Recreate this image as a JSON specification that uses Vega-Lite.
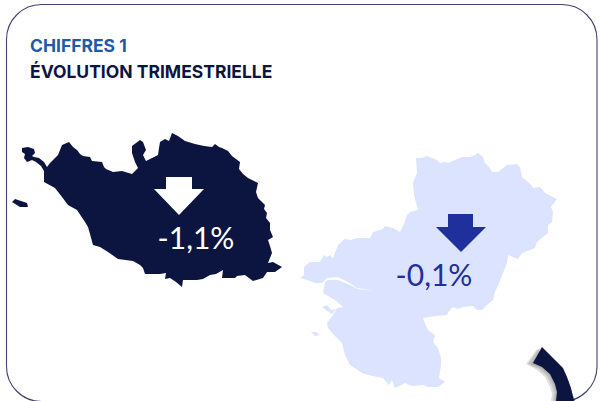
{
"$schema":"https://vega.github.io/schema/vega-lite/v6.json",
"width":600,"height":401,"padding":0,"autosize":"none","background":"white",
"config":{"view":{"stroke":null}},
"layer":[
{"data":{"values":[{"x":6.5,"x2":597,"y":4.5,"y2":401.5}]},
 "mark":{"type":"rect","fill":null,"stroke":"#3f4570","strokeWidth":1.1,"cornerRadius":35},
 "encoding":{"x":{"field":"x","type":"quantitative","scale":{"domain":[0,600],"range":[0,600],"nice":false,"zero":false},"axis":null},"x2":{"field":"x2"},"y":{"field":"y","type":"quantitative","scale":{"domain":[0,401],"range":[0,401],"nice":false,"zero":false},"axis":null},"y2":{"field":"y2"}}},
{"data":{"values":[
 {"type":"Feature","properties":{"name":"shadow"},"geometry":{"type":"Polygon","coordinates":[[[537,349],[526,364],[537,370],[545,377],[550,387],[552,394],[551,401],[575,401],[565,373],[555,357]]]}},
 {"type":"Feature","properties":{"name":"shadow"},"geometry":{"type":"Polygon","coordinates":[[[539,348],[528,364],[539,369],[547,376],[552,386],[554,393],[553,401],[575,401],[565,373],[555,357]]]}},
 {"type":"Feature","properties":{"name":"shadow"},"geometry":{"type":"Polygon","coordinates":[[[541,348],[531,364],[541,368],[549,375],[554,385],[556,392],[555,401],[575,401],[565,373],[555,357]]]}},
 {"type":"Feature","properties":{"name":"arc"},"geometry":{"type":"Polygon","coordinates":[[[542,347],[533,363],[542,367],[550,374],[555,384],[557,392],[556,401],[574,401],[571,388],[567,377],[563,368],[555,358]]]}},
 {"type":"Feature","properties":{"name":"Pays de la Loire"},"geometry":{"type":"MultiPolygon","coordinates":[
  [[[417,158],[422,158],[427,156],[432,158],[437,160],[440,163],[445,162],[448,163],[455,160],[462,157],[470,157],[475,155],[478,153],[483,157],[485,163],[489,167],[492,172],[498,172],[503,168],[507,165],[517,164],[520,167],[522,177],[528,182],[534,188],[540,187],[545,193],[557,199],[551,207],[553,212],[552,222],[548,225],[548,233],[537,242],[535,248],[522,253],[518,259],[508,255],[507,263],[503,273],[499,283],[495,292],[493,300],[487,305],[482,310],[477,310],[473,306],[463,307],[458,309],[453,307],[449,311],[447,315],[435,316],[423,318],[426,326],[428,330],[435,335],[433,342],[438,348],[441,358],[441,365],[439,378],[445,382],[438,387],[428,387],[423,385],[412,386],[405,383],[395,388],[392,380],[389,385],[383,378],[372,376],[362,373],[350,365],[345,355],[342,343],[335,336],[328,328],[327,323],[333,315],[337,308],[343,307],[335,300],[323,293],[325,282],[328,280],[338,280],[350,285],[358,289],[374,291],[357,288],[348,282],[338,277],[327,278],[322,283],[315,283],[307,280],[300,278],[304,275],[304,267],[310,262],[320,262],[324,255],[327,257],[330,255],[333,258],[338,245],[345,239],[351,240],[357,238],[370,238],[373,232],[383,229],[385,226],[393,228],[400,232],[404,224],[407,215],[410,212],[418,210],[414,195],[413,183],[417,173],[416,158],[417,158]]],
  [[[322,307],[327,305],[331,310],[336,309],[332,314],[326,310],[322,307]]],
  [[[311,332],[316,332],[320,335],[315,336],[311,332]]]]}},
 {"type":"Feature","properties":{"name":"Vendée"},"geometry":{"type":"MultiPolygon","coordinates":[
  [[[22,148],[28,147],[34,149],[35,153],[32,156],[34,157],[39,158],[44,162],[47,167],[50,163],[54,159],[58,155],[60,150],[62,145],[69,142],[73,147],[77,150],[80,154],[83,156],[90,157],[92,161],[102,162],[104,167],[106,169],[113,172],[122,171],[132,174],[138,168],[135,162],[132,153],[132,146],[140,140],[143,142],[146,150],[143,155],[146,161],[152,158],[158,155],[159,148],[160,142],[165,139],[169,141],[172,133],[178,136],[185,141],[195,144],[204,146],[212,147],[215,144],[219,147],[222,148],[228,151],[232,156],[236,159],[240,162],[239,169],[243,174],[248,178],[258,183],[256,192],[258,198],[261,201],[265,205],[264,209],[267,213],[266,218],[270,223],[270,230],[273,237],[268,240],[270,246],[272,253],[268,263],[273,262],[282,267],[275,272],[267,272],[263,278],[253,281],[245,275],[237,276],[235,278],[222,278],[223,270],[216,274],[210,275],[203,279],[197,280],[183,280],[182,287],[176,282],[170,278],[165,279],[166,273],[160,274],[145,274],[143,268],[140,265],[133,261],[118,259],[108,252],[100,247],[93,245],[90,234],[88,227],[85,222],[77,210],[68,205],[62,197],[55,188],[44,182],[44,171],[41,166],[36,162],[32,160],[27,162],[24,158],[25,154],[22,152],[22,148]]],
  [[[12,202],[15,199],[21,201],[27,203],[28,207],[20,207],[12,202]]]]}},
 {"type":"Feature","properties":{"name":"arrow white"},"geometry":{"type":"Polygon","coordinates":[[[166,177],[192,177],[192,189],[204,189],[179,215],[154,189],[166,189],[166,177]]]}},
 {"type":"Feature","properties":{"name":"arrow blue"},"geometry":{"type":"Polygon","coordinates":[[[448,214],[473,214],[473,227],[486,227],[461,252],[436,227],[448,227],[448,214]]]}}
 ]},
 "projection":{"type":"identity","scale":1,"translate":[0,0]},
 "mark":{"type":"geoshape","strokeWidth":0},
 "encoding":{"color":{"field":"properties.name","type":"nominal","legend":null,
  "scale":{"domain":["shadow","arc","Pays de la Loire","Vendée","arrow white","arrow blue"],"range":["#00000020","#0c1540","#dbe3fe","#0c1540","#ffffff","#1f2f9c"]}}}},
{"data":{"values":[
 {"x":30,"y":52,"t":"CHIFFRES 1","k":"a"},
 {"x":30,"y":78,"t":"ÉVOLUTION TRIMESTRIELLE","k":"b"}]},
 "mark":{"type":"text","align":"left","baseline":"alphabetic","font":"Inter","fontWeight":700,"fontSize":17.5},
 "encoding":{"x":{"field":"x","type":"quantitative","scale":{"domain":[0,600],"range":[0,600],"nice":false,"zero":false},"axis":null},"y":{"field":"y","type":"quantitative","scale":{"domain":[0,401],"range":[0,401],"nice":false,"zero":false},"axis":null},"text":{"field":"t"},
 "color":{"field":"k","legend":null,"scale":{"domain":["a","b"],"range":["#1f5aa8","#0c1540"]}}}},
{"data":{"values":[
 {"x":196,"y":249,"t":"-1,1%","k":"c"},
 {"x":434,"y":286,"t":"-0,1%","k":"d"}]},
 "mark":{"type":"text","align":"center","baseline":"alphabetic","font":"Lato","fontWeight":400,"fontSize":30},
 "encoding":{"x":{"field":"x","type":"quantitative","scale":{"domain":[0,600],"range":[0,600],"nice":false,"zero":false},"axis":null},"y":{"field":"y","type":"quantitative","scale":{"domain":[0,401],"range":[0,401],"nice":false,"zero":false},"axis":null},"text":{"field":"t"},
 "color":{"field":"k","legend":null,"scale":{"domain":["c","d"],"range":["#ffffff","#1f2f9c"]}}}}
],
"resolve":{"scale":{"color":"independent"}}
}
